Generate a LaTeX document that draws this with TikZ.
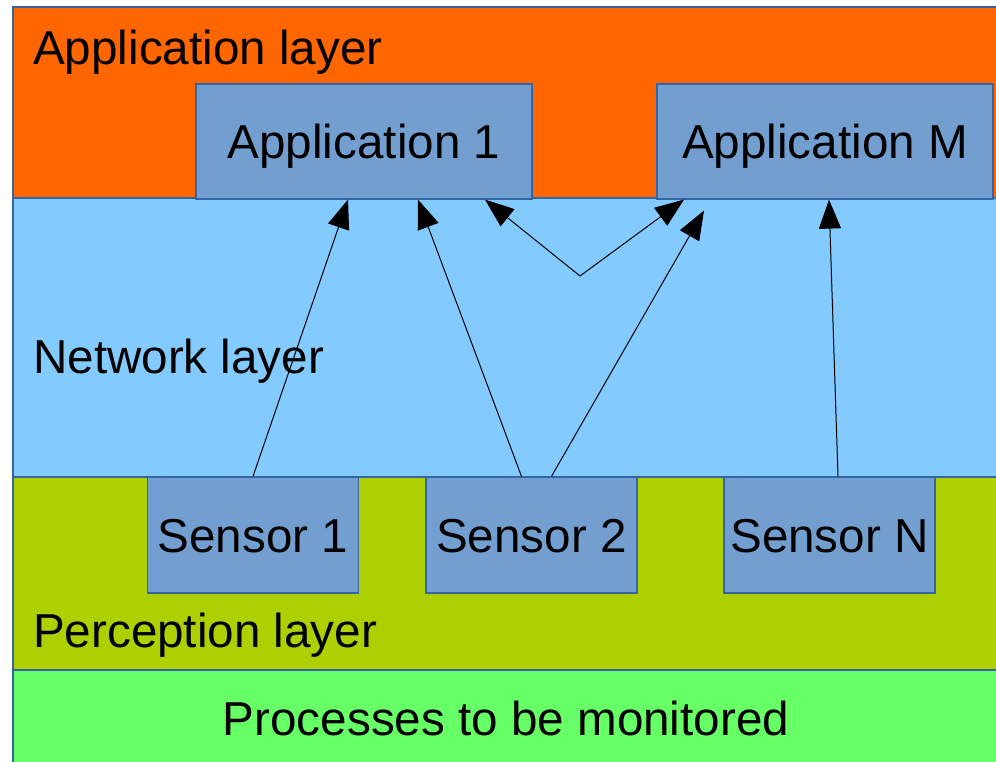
\documentclass[tikz,border=0pt]{standalone}
\usepackage{fontspec}
\setmainfont{Liberation Sans}
\usetikzlibrary{arrows.meta}
\definecolor{apporange}{HTML}{FF6600}
\definecolor{netblue}{HTML}{83CAFF}
\definecolor{percgreen}{HTML}{AECF00}
\definecolor{procgreen}{HTML}{66FF66}
\definecolor{boxblue}{HTML}{729FCF}
\definecolor{edgeblue}{HTML}{3465A4}
\tikzset{
  layer/.style={draw=edgeblue, line width=1.2pt},
  unit/.style={draw=edgeblue, fill=boxblue, line width=1.2pt, inner sep=0pt,
    text height=34pt, text depth=0pt, font=\fontsize{47.6}{56}\selectfont},
  appbox/.style={unit, minimum width=336pt, minimum height=115pt},
  sensorbox/.style={unit, minimum width=211pt, minimum height=116pt},
  caption/.style={inner sep=0pt, font=\fontsize{47.6}{56}\selectfont},
  arr/.style={line width=1pt, -{Triangle[length=29pt,width=22pt]}}
}
\begin{document}
\begin{tikzpicture}[x=1pt,y=-1pt]
\useasboundingbox (0,0) rectangle (996,762);
% layers
\filldraw[layer, fill=apporange] (13,7) rectangle (1010,198);
\filldraw[layer, fill=netblue] (13,198) rectangle (1010,477);
\filldraw[layer, fill=percgreen] (13,477) rectangle (1010,670);
\filldraw[layer, fill=procgreen] (13,670) rectangle (1010,780);
\node[caption, anchor=base west] (applbl) at (33,65) {Application layer};
\node[caption, anchor=base west] (netlbl) at (33,373) {Network layer};
\node[caption, anchor=base west] (perclbl) at (33,647) {Perception layer};
\node[caption, anchor=base] (proclbl) at (506,735) {Processes to be monitored};
% applications
\node[appbox] (app1) at (364,141.5) {Application 1};
\node[appbox] (appm) at (825,141.5) {Application M};
% sensors
\node[sensorbox] (sens1) at (253,535) {Sensor 1};
\node[sensorbox] (sens2) at (531.5,535) {Sensor 2};
\node[sensorbox] (sensn) at (829.5,535) {Sensor N};
% links
\coordinate (split) at (580,276);
\draw[arr] (sens1.north) -- ([xshift=-16pt]app1.south);
\draw[arr] ([xshift=-10pt]sens2.north) -- ([xshift=54pt]app1.south);
\draw[arr] ([xshift=20pt]sens2.north) -- ([xshift=-121pt,yshift=-11pt]appm.south);
\draw[arr] (split) -- ([xshift=121pt]app1.south);
\draw[arr] (split) -- ([xshift=-141pt]appm.south);
\draw[arr] ([xshift=8.5pt]sensn.north) -- ([xshift=4pt]appm.south);
\end{tikzpicture}
\end{document}
